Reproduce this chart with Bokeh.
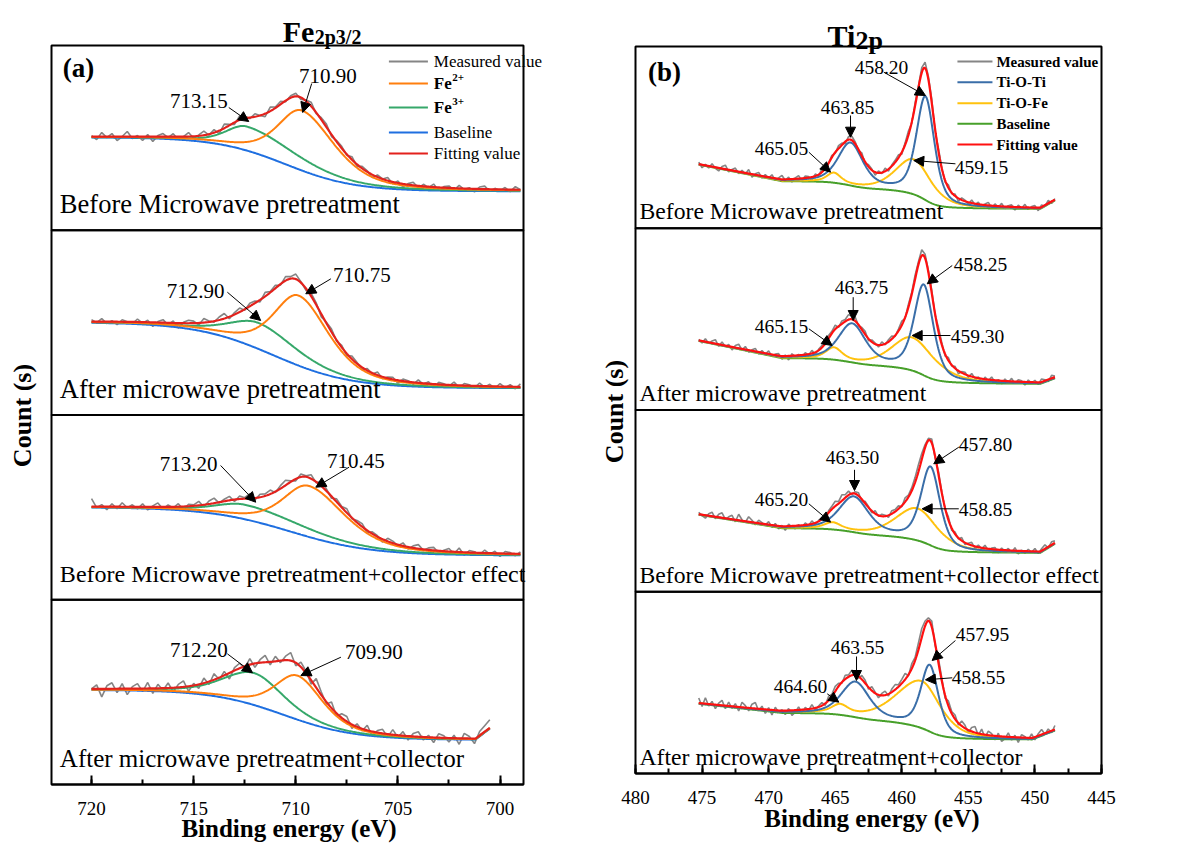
import numpy as np
from bokeh.embed import file_html
from bokeh.layouts import row
from bokeh.models import (Arrow, BoxAnnotation, Label, NormalHead, Range1d,
                          SingleIntervalTicker)
from bokeh.plotting import figure
from bokeh.resources import INLINE

FONT = "Liberation Serif"

# ---------------- Fe 2p3/2 (left column), y in px above each panel bottom ----------------
fe_captions = ["Before Microwave pretreatment", "After microwave pretreatment",
               "Before Microwave pretreatment+collector effect",
               "After microwave pretreatment+collector"]
fe_caption_size = ["26.5px", "26.5px", "24px", "25px"]
fe_start = 720.0
fe_bg_high = [93.0, 92.8, 92.6, 94.7]
fe_bg_low = [39.0, 26.8, 44.3, 44.7]
fe_bg_mid = [710.5, 711.1, 710.3, 710.6]
fe_bg_width = [1.7, 1.9, 2.0, 1.75]
fe_end_knee = [699.0, 699.0, 699.0, 701.2]
fe_end_rise = [0.0, 0.0, 0.0, 11.0]
fe2_center = [709.70, 709.86, 709.37, 709.92]
fe2_height = [60.0, 70.0, 51.0, 44.0]
fe2_hw_hi = [1.40, 1.45, 1.50, 1.30]
fe2_hw_lo = [1.90, 1.75, 2.10, 1.45]
fe3_center = [712.40, 711.80, 712.47, 712.04]
fe3_height = [24.0, 26.0, 14.5, 32.0]
fe3_hw_hi = [1.2, 1.7, 1.7, 1.8]
fe3_hw_lo = [2.8, 2.2, 3.5, 1.7]
FE_MIX = 0.5

# measured minus fit, every 0.25 eV from 720 eV downwards
fe_resid = [
    [1, -3, 4, -1, 3, -4, 0, 5, -2, 1,
     -4, 2, -5, 1, 3, -1, 3, -3, 0, 4,
     -2, 1, 4, -1, 3, -3, 4, 1, -2, 4,
     2, -1, 3, 0, -3, 4, 1, 3, -1, 2,
     3, -2, 1, 4, -1, 2, 3, -2, 1, 2,
     -1, 3, -2, 2, 1, -3, 2, 0, 3, -2,
     2, -3, 1, 3, -2, 2, -1, 3, -3, 1,
     2, -2, 3, -1, 1, -3, 2, 3, -2, 1,
     -1, 2, -2, 3, 0],
    [2, -1, 3, -2, 1, -3, 2, 0, -2, 3,
     -1, 2, -4, 1, 3, -2, 2, -5, 1, 3,
     2, -2, 4, 1, -1, 3, 5, -2, 2, 4,
     -1, 3, 2, -2, 4, 1, 3, -1, 4, 2,
     5, 1, -2, 3, 2, -3, 1, 3, -1, 2,
     -2, 3, 1, -2, 2, -1, 3, -2, 1, 2,
     -3, 2, 1, -2, 3, -1, 2, -3, 2, 1,
     -1, 3, -2, 2, 1, -2, 3, -1, 2, -2,
     3, -1, 2, -2, 3],
    [8, -1, 2, -3, 3, -2, 4, -1, 2, -2,
     3, -3, 1, 4, -2, 2, -1, 3, -3, 2,
     1, 4, -2, 3, 5, -1, 2, 4, -2, 3,
     1, 5, -2, 3, 2, 4, -1, 3, 5, 1,
     -2, 3, 1, 4, -1, 5, 2, -2, 3, 1,
     4, -1, 2, 3, -2, 2, 1, -3, 3, 2,
     -1, 3, -2, 2, 4, -1, 2, 3, -2, 1,
     3, -2, 4, -3, 2, 1, -2, 3, -1, 2,
     -3, 2, 1, -2, 2],
    [0, 4, -8, 3, 6, -4, 5, -6, 2, 5,
     -3, 6, -5, 4, -2, 5, -4, 3, 6, -5,
     2, -4, 5, -3, 6, -2, 4, -6, 3, 5,
     -2, 6, -4, 3, 7, -3, 5, -2, 4, 8,
     -3, 5, 2, -4, 9, 3, -2, 6, -3, 4,
     5, -4, 3, -2, 5, -5, 2, 4, -3, 5,
     -2, 4, -4, 3, 5, -3, 2, -5, 4, 2,
     -4, 3, -6, 5, 2, -5, 4, 6, 8],
]

fe_notes = [
    [("713.15", 714.75, 684, 713.28, 677, 712.30, 663),
     ("710.90", 708.43, 709, 709.22, 701, 709.66, 672)],
    [("712.90", 714.90, 494, 713.35, 492.3, 711.72, 464),
     ("710.75", 706.76, 510, 708.28, 505.7, 709.51, 490.7)],
    [("713.20", 715.25, 321, 713.68, 319, 711.96, 282.3),
     ("710.45", 707.06, 324, 707.39, 317.3, 709.02, 297.3)],
    [("712.20", 714.75, 135, 713.35, 130.7, 712.12, 111.7),
     ("709.90", 706.18, 133, 707.79, 127.3, 709.75, 109)],
]

# ---------------- Ti 2p (right column) ----------------
ti_captions = fe_captions
ti_start = 475.25
ti_bg_low = [19.4, 26.2, 38.9, 34.0]
ti_bg_step = [28.0, 26.0, 25.0, 27.0]
ti_bg_slope = [2.6, 2.7, 2.1, 1.4]
TI_SLOPE_KNEE = 469.0
ti_end_knee = [449.6, 449.6, 449.6, 450.2]
ti_end_rise = [8.4, 5.6, 9.0, 9.0]
tioti_center = [458.22, 458.35, 457.84, 457.90]
tioti_height = [103.0, 90.0, 78.0, 66.0]
tioti_hw = [0.80, 0.85, 0.85, 0.78]
tioti2_center = [463.85, 463.73, 463.60, 463.48]
tioti2_height = [42.0, 38.0, 35.0, 35.0]
tioti2_hw = [1.10, 1.20, 1.30, 1.25]
tiofe_center = [459.10, 459.22, 458.84, 458.47]
tiofe_height = [35.0, 33.0, 32.0, 47.0]
tiofe_hw_hi = [1.6, 1.8, 1.9, 2.3]
tiofe_hw_lo = [1.6, 2.1, 1.9, 1.7]
tiofe2_center = [465.10, 465.10, 465.20, 464.65]
tiofe2_height = [9.0, 11.0, 6.0, 8.0]
tiofe2_hw = [0.6, 0.7, 0.7, 0.7]
TI_MIX = 0.5

# measured minus fit, every 0.25 eV from 475.25 eV downwards
ti_resid = [
    [2, -3, 1, -2, 3, -1, -3, 2, 4, -2,
     1, 3, -2, 2, -1, 4, -3, 1, 3, -2,
     2, -1, 3, -2, 1, 4, -1, 2, -3, 1,
     3, -2, 2, 1, -3, 2, -1, 3, -2, 0,
     2, -1, 3, 2, -2, 3, 4, 2, -1, 3,
     -2, 2, 1, -3, 2, -1, 3, -2, 1, 2,
     3, -2, 2, 4, -1, 3, 2, 5, 6, 3,
     4, -2, 3, 1, -2, 3, -1, 2, -3, 2,
     1, -2, 3, -1, 2, -3, 1, 3, -2, 2,
     -1, 3, -2, 1, 2, -3, 2, -1, 3, -2,
     1, 2, -3, 2, -1, 3, -2, 1],
    [1, -2, 3, -1, 2, 4, -2, 3, -1, 2,
     -3, 2, 4, -1, 3, -2, 1, 3, -2, 2,
     -1, 3, -2, 1, 2, -3, 1, -4, 2, -1,
     1, -2, 2, -1, 3, -2, 1, 2, -1, 3,
     2, 4, -1, 3, 2, 5, 3, 4, -1, 2,
     3, -2, 2, 1, -2, 3, -1, 2, 3, -1,
     2, 4, -1, 3, 2, 4, 3, 6, 4, 2,
     3, -1, 4, 2, -2, 3, -1, 2, -3, 1,
     2, -2, 3, -1, 1, -3, 2, -1, 3, -2,
     1, -3, 2, -1, 3, -2, 2, 1, -3, 2,
     -1, 2, -2, 3, 1, -2, 3, 1],
    [2, -1, -3, 2, 4, -2, 3, 5, -1, 2,
     4, -2, 6, 1, -1, 5, 2, -2, 3, 1,
     -1, 3, -2, 2, -3, 1, -4, 2, -1, -3,
     1, -2, 2, -1, 3, -2, 1, 2, -1, 2,
     3, 5, 2, 6, 3, 4, -1, 2, 3, -2,
     2, 1, -2, 3, -1, 2, 1, -2, 3, 2,
     3, -1, 4, 2, 3, 5, 7, 6, 3, 2,
     4, -2, 3, 1, -1, 3, -2, 2, -1, 3,
     -2, 1, 3, -2, 2, -1, 3, -2, 1, 2,
     -3, 2, -1, 2, -2, 3, -3, 1, -2, 2,
     -1, 3, -2, 2, 4, -1, 3, 2],
    [5, -3, 6, -2, 3, -4, 2, 5, -3, 4,
     -2, 3, -4, 5, 2, -3, 4, 6, -2, 3,
     -4, 2, -5, 3, -2, 1, -4, 2, -5, -2,
     3, -3, 2, -1, 4, -2, 1, 3, -2, 4,
     2, 5, 3, -1, 4, 2, 5, 3, -2, 4,
     3, -2, 4, 1, -3, 2, 4, -2, 3, 5,
     2, 4, 6, -1, 5, 3, 7, 9, 5, 3,
     6, -2, 4, 3, -3, 5, 2, 4, -2, 5,
     3, -3, 4, 6, -2, 5, -3, 4, 2, -4,
     3, -5, -2, 4, -3, 2, -5, 3, 1, -2,
     4, -3, 2, 5, -1, 3, -2, 4],
]

ti_notes = [
    [("458.20", 461.52, 706, 461.35, 701.3, 458.22, 678),
     ("463.85", 464.08, 666, 463.85, 658, 463.85, 636.3),
     ("465.05", 469.03, 625, 466.98, 621.3, 465.35, 601.3),
     ("459.15", 454.01, 606, 455.97, 609.7, 459.10, 613)],
    [("458.25", 454.09, 509, 456.21, 508, 458.09, 489.7),
     ("463.75", 463.03, 486, 463.65, 476.3, 463.65, 453),
     ("465.15", 469.03, 447, 466.98, 444.7, 465.23, 428),
     ("459.30", 454.31, 437, 456.34, 438, 459.22, 438)],
    [("457.80", 453.71, 329, 455.72, 326.3, 457.60, 309.7),
     ("463.50", 463.70, 316, 463.55, 303.7, 463.55, 283),
     ("465.20", 469.03, 274, 466.98, 269.7, 465.35, 251.3),
     ("458.85", 453.71, 264, 455.72, 264.7, 458.47, 264.7)],
    [("457.95", 453.94, 139, 455.97, 133, 457.72, 113),
     ("463.55", 463.33, 126, 463.40, 117, 463.40, 93),
     ("464.60", 467.61, 87, 465.60, 79.7, 464.73, 71.3),
     ("458.55", 454.24, 96, 456.21, 95.7, 458.22, 93.7)],
]

GRAY = "#858585"
FE_COLORS = {"fe2": "#ff7f0e", "fe3": "#36a86a", "base": "#1f6fe0", "fit": "#e3211c"}
TI_COLORS = {"tioti": "#3a6ea8", "tiofe": "#ffc20e", "base": "#47a02a", "fit": "#ff1010"}

FIG_H = 850


def pseudo_voigt(x, c, h, hw_hi, hw_lo, mix):
    hw = np.where(x >= c, hw_hi, hw_lo)
    u = ((x - c) / hw) ** 2
    return h * ((1 - mix) * np.exp(-np.log(2) * u) + mix / (1 + u))


def step_background(x, low, high, mid, width):
    return low + (high - low) / (1 + np.exp(-(x - mid) / width))


def shirley(peaks, low, step):
    # integrated peak area from the low-energy end upwards
    c = np.cumsum(peaks[::-1])[::-1]
    return low + step * c / c[0]


def end_ramp(x, knee, rise):
    if rise == 0:
        return np.zeros_like(x)
    return rise * np.clip((knee - x) / (knee - x[-1]), 0, 1)


def make_figure(box_x, box_left_px, px_per_ev, width, box_bottom_px):
    """The frame fills the whole canvas (1 y unit = 1 px); axis is pinned to the panel bottom."""
    x0 = box_x[1] + box_left_px / px_per_ev
    x1 = box_x[1] - (width - box_left_px) / px_per_ev
    p = figure(width=width, height=FIG_H, x_range=Range1d(x0, x1),
               y_range=Range1d(box_bottom_px - FIG_H, box_bottom_px),
               output_backend="svg", toolbar_location=None, tools="",
               min_border_left=0, min_border_right=0, min_border_top=0, min_border_bottom=0)
    p.background_fill_color = "white"
    p.border_fill_color = "white"
    p.outline_line_color = None
    p.xgrid.visible = False
    p.ygrid.visible = False
    p.yaxis.visible = False
    ax = p.xaxis[0]
    ax.fixed_location = 0
    ax.bounds = box_x
    ax.ticker = SingleIntervalTicker(interval=5, num_minor_ticks=2)
    ax.axis_line_width = 2
    ax.major_tick_in = 9
    ax.major_tick_out = 0
    ax.minor_tick_in = 5
    ax.minor_tick_out = 0
    ax.major_tick_line_width = 2
    ax.minor_tick_line_width = 2
    ax.major_label_standoff = 17
    ax.major_label_text_font = FONT
    ax.major_label_text_font_size = "19px"
    ax.major_label_text_color = "black"
    return p


def panel_box(p, box_x, bottom, top):
    p.add_layout(BoxAnnotation(left=box_x[1], right=box_x[0], bottom=bottom, top=top,
                               fill_alpha=0, fill_color=None,
                               line_color="black", line_width=2, line_alpha=1))


def text(p, x, y, s, size, bold=False, align="left", baseline="middle", dx=0, angle=0):
    p.add_layout(Label(x=x, y=y, text=s, x_offset=dx, angle=angle, text_font=FONT,
                       text_font_size=size, text_font_style="bold" if bold else "normal",
                       text_color="black", text_align=align, text_baseline=baseline))


def notes(p, items, size):
    for s, tx, ty, x0, y0, x1, y1 in items:
        text(p, tx, ty, s, size, align="center")
        p.add_layout(Arrow(end=NormalHead(size=10, fill_color="black", line_color="black"),
                           x_start=x0, y_start=y0, x_end=x1, y_end=y1,
                           line_color="black", line_width=1))


# ---------------- left: Fe 2p3/2 ----------------
FE_BOX = (698.85, 721.96)
FE_BOX_TOP = 739.0
fe_ph = FE_BOX_TOP / 4
p1 = make_figure(FE_BOX, 51, 472 / (FE_BOX[1] - FE_BOX[0]), 590, 784)

for k in range(4):
    n = len(fe_resid[k]) * 5 - 4
    x = fe_start - 0.05 * np.arange(n)
    g2 = pseudo_voigt(x, fe2_center[k], fe2_height[k], fe2_hw_hi[k], fe2_hw_lo[k], FE_MIX)
    g3 = pseudo_voigt(x, fe3_center[k], fe3_height[k], fe3_hw_hi[k], fe3_hw_lo[k], FE_MIX)
    base = step_background(x, fe_bg_low[k], fe_bg_high[k], fe_bg_mid[k], fe_bg_width[k])
    base = base + end_ramp(x, fe_end_knee[k], fe_end_rise[k])
    fit = base + g2 + g3
    off = (3 - k) * fe_ph
    meas = fit[::5] + np.array(fe_resid[k], dtype=float)
    p1.line(x[::5], meas + off, color=GRAY, line_width=1.6)
    p1.line(x, base + off, color=FE_COLORS["base"], line_width=2)
    p1.line(x, base + g3 + off, color=FE_COLORS["fe3"], line_width=2)
    p1.line(x, base + g2 + off, color=FE_COLORS["fe2"], line_width=2)
    p1.line(x, fit + off, color=FE_COLORS["fit"], line_width=2.2)
    panel_box(p1, FE_BOX, off, off + fe_ph)
    text(p1, 721.55, off + 26 + (fe_ph - 184.75), fe_captions[k], fe_caption_size[k])
    notes(p1, fe_notes[k], "21px")

fe_legend = [("Measured value", GRAY, False), ("Fe", FE_COLORS["fe2"], True),
             ("Fe", FE_COLORS["fe3"], True), ("Baseline", FE_COLORS["base"], False),
             ("Fitting value", FE_COLORS["fit"], False)]
fe_legend_y = [723, 701, 677, 652, 631]
fe_sup = [None, "2+", "3+", None, None]
for (s, c, b), yy, sup in zip(fe_legend, fe_legend_y, fe_sup):
    p1.line([705.44, 703.53], [yy, yy], color=c, line_width=2)
    text(p1, 703.24, yy, s, "17px", bold=b)
    if sup:
        text(p1, 703.24, yy + 6, sup, "11px", bold=True, dx=18.5)

text(p1, 720.64, 717, "(a)", "27px", bold=True, align="center")
text(p1, 710.64, 753, "Fe", "30px", bold=True, baseline="alphabetic")
text(p1, 710.64, 748, "2p3/2", "20px", bold=True, baseline="alphabetic", dx=32)
text(p1, 723.40, 369, "Count (s)", "26px", bold=True, align="center", angle=np.pi / 2)
text(p1, 710.33, -44, "Binding energy (eV)", "25px", bold=True, align="center")

# ---------------- right: Ti 2p ----------------
TI_BOX = (445.0, 480.0)
TI_BOX_TOP = 727.0
ti_ph = TI_BOX_TOP / 4
p2 = make_figure(TI_BOX, 45, 466 / (TI_BOX[1] - TI_BOX[0]), 587, 773)

for k in range(4):
    n = len(ti_resid[k]) * 5 - 4
    x = ti_start - 0.05 * np.arange(n)
    a = pseudo_voigt(x, tioti_center[k], tioti_height[k], tioti_hw[k], tioti_hw[k], TI_MIX)
    a += pseudo_voigt(x, tioti2_center[k], tioti2_height[k], tioti2_hw[k], tioti2_hw[k], TI_MIX)
    b = pseudo_voigt(x, tiofe_center[k], tiofe_height[k], tiofe_hw_hi[k], tiofe_hw_lo[k], TI_MIX)
    b += pseudo_voigt(x, tiofe2_center[k], tiofe2_height[k], tiofe2_hw[k], tiofe2_hw[k], TI_MIX)
    base = shirley(a + b, ti_bg_low[k], ti_bg_step[k])
    base = base + ti_bg_slope[k] * np.clip(x - TI_SLOPE_KNEE, 0, None)
    base = base + end_ramp(x, ti_end_knee[k], ti_end_rise[k])
    fit = base + a + b
    off = (3 - k) * ti_ph
    meas = fit[::5] + np.array(ti_resid[k], dtype=float)
    p2.line(x[::5], meas + off, color=GRAY, line_width=1.6)
    p2.line(x, base + off, color=TI_COLORS["base"], line_width=2)
    p2.line(x, base + b + off, color=TI_COLORS["tiofe"], line_width=2)
    p2.line(x, base + a + off, color=TI_COLORS["tioti"], line_width=2)
    p2.line(x, fit + off, color=TI_COLORS["fit"], line_width=2.2)
    panel_box(p2, TI_BOX, off, off + ti_ph)
    text(p2, 479.7, off + 17, ti_captions[k], "23.7px")
    notes(p2, ti_notes[k], "19.5px")

ti_legend = [("Measured value", GRAY), ("Ti-O-Ti", TI_COLORS["tioti"]),
             ("Ti-O-Fe", TI_COLORS["tiofe"]), ("Baseline", TI_COLORS["base"]),
             ("Fitting value", TI_COLORS["fit"])]
ti_legend_y = [712, 691.3, 670.3, 649.7, 629]
for (s, c), yy in zip(ti_legend, ti_legend_y):
    p2.line([455.82, 453.19], [yy, yy], color=c, line_width=2)
    text(p2, 452.89, yy, s, "15px", bold=True)

text(p2, 477.82, 702, "(b)", "27px", bold=True, align="center")
text(p2, 465.58, 738, "Ti", "30px", bold=True, baseline="alphabetic")
text(p2, 465.58, 733, "2p", "26px", bold=True, baseline="alphabetic", dx=28)
text(p2, 481.54, 362, "Count (s)", "26px", bold=True, align="center", angle=np.pi / 2)
text(p2, 462.24, -45, "Binding energy (eV)", "25px", bold=True, align="center")

layout = row(p1, p2)
open("out.html", "w").write(file_html(layout, INLINE))
